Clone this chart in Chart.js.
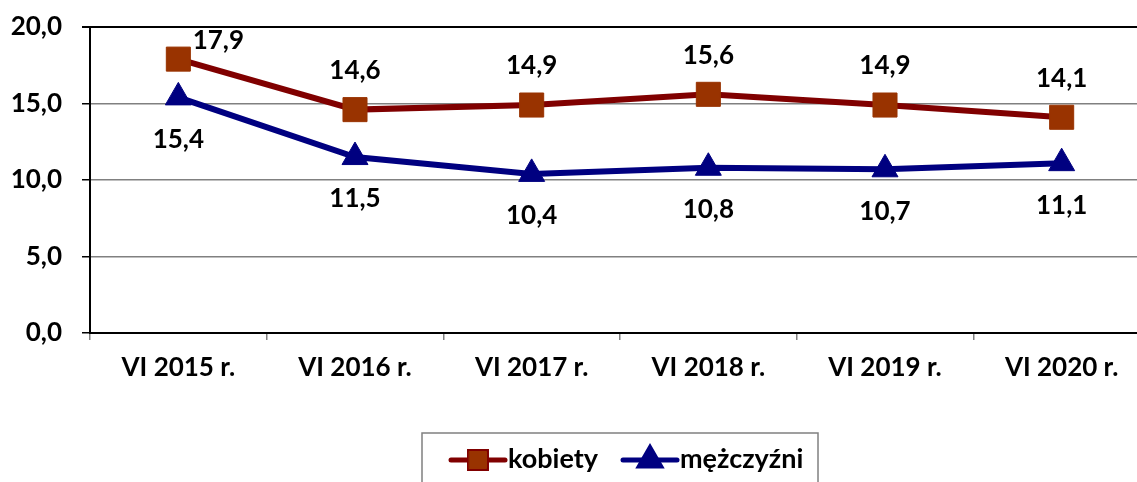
<!DOCTYPE html>
<html>
<head>
<meta charset="utf-8">
<script src="https://cdn.jsdelivr.net/npm/chart.js@4"></script>
<style>
  html, body { margin: 0; padding: 0; background: #fff; overflow: hidden; }
  #wrap { width: 1160px; height: 482px; }
</style>
</head>
<body>
<div id="wrap"><canvas id="chart" width="1160" height="482"></canvas></div>
<script>
// categories and series
const categories = ['VI 2015 r.', 'VI 2016 r.', 'VI 2017 r.', 'VI 2018 r.', 'VI 2019 r.', 'VI 2020 r.'];
const kobiety = [17.9, 14.6, 14.9, 15.6, 14.9, 14.1];
const mezczyzni = [15.4, 11.5, 10.4, 10.8, 10.7, 11.1];
const yTicks = [0, 5, 10, 15, 20];

const FONT = 'Lato, "Open Sans", sans-serif';
const fmt = v => v.toFixed(1).replace('.', ',');

// value labels: first series above the point, second below
const valueLabels = {
  id: 'valueLabels',
  afterDatasetsDraw(chart) {
    const ctx = chart.ctx;
    ctx.save();
    ctx.font = 'bold 26px ' + FONT;
    ctx.fillStyle = '#000';
    ctx.textAlign = 'center';
    ctx.textBaseline = 'middle';
    chart.data.datasets.forEach((ds, i) => {
      chart.getDatasetMeta(i).data.forEach((pt, j) => {
        let x = pt.x, y = pt.y;
        if (i === 0) {
          y -= 39;
          // no room above the plot: put it to the upper right
          if (y < chart.chartArea.top + 8) { y = pt.y - 19; x = pt.x + 40; }
        } else {
          y += 42;
        }
        ctx.fillText(fmt(ds.data[j]), x, y);
      });
    });
    ctx.restore();
  }
};

// boxed legend under the chart
const boxLegend = {
  id: 'boxLegend',
  afterDraw(chart) {
    const ctx = chart.ctx;
    const left = 422, top = 433, right = 818;
    ctx.save();
    ctx.strokeStyle = '#808080';
    ctx.lineWidth = 1.5;
    ctx.strokeRect(left, top, right - left, 80);
    const items = [
      { x: 451, r: 12, ds: chart.data.datasets[0] },
      { x: 623, r: 12, ds: chart.data.datasets[1] }
    ];
    const y = 460;
    items.forEach(it => {
      ctx.strokeStyle = it.ds.borderColor;
      ctx.lineWidth = 5;
      ctx.lineCap = 'round';
      ctx.beginPath();
      ctx.moveTo(it.x, y);
      ctx.lineTo(it.x + 54, y);
      ctx.stroke();
      Chart.helpers.drawPoint(ctx, {
        pointStyle: it.ds.pointStyle,
        radius: it.r,
        borderWidth: 1
      }, it.x + 27, y);
      ctx.fillStyle = it.ds.pointBackgroundColor;
      ctx.strokeStyle = it.ds.pointBorderColor;
      ctx.lineWidth = 1;
      ctx.fill();
      ctx.stroke();
      ctx.fillStyle = '#000';
      ctx.font = 'bold 27px ' + FONT;
      ctx.textAlign = 'left';
      ctx.textBaseline = 'middle';
      ctx.fillText(it.ds.label, it.x + 57, y - 1);
    });
    ctx.restore();
  }
};

const noPad = s => { s.paddingTop = 0; s.paddingBottom = 0; s.paddingLeft = 0; s.paddingRight = 0; };

new Chart(document.getElementById('chart'), {
  type: 'line',
  data: {
    labels: categories,
    datasets: [
      {
        label: 'kobiety',
        data: kobiety,
        borderColor: '#800000',
        borderWidth: 6,
        pointStyle: 'rect',
        pointRadius: 17,
        pointBackgroundColor: '#993300',
        pointBorderColor: '#993300',
        pointBorderWidth: 1,
        tension: 0
      },
      {
        label: 'mężczyźni',
        data: mezczyzni,
        borderColor: '#000080',
        borderWidth: 6,
        pointStyle: 'triangle',
        pointRadius: 15,
        pointBackgroundColor: '#000080',
        pointBorderColor: '#000080',
        pointBorderWidth: 1,
        tension: 0
      }
    ]
  },
  options: {
    responsive: false,
    animation: false,
    layout: { autoPadding: false, padding: { top: 27, right: 10, bottom: 89, left: 0 } },
    plugins: { legend: { display: false }, tooltip: { enabled: false } },
    scales: {
      x: {
        offset: true,
        afterFit: s => { s.height = 60; noPad(s); },
        grid: { offset: true, drawOnChartArea: false, tickLength: 7, color: '#808080', lineWidth: 1.5 },
        border: { color: '#000', width: 2 },
        ticks: { color: '#000', font: { family: FONT, size: 26, weight: 'bold' }, padding: 12 }
      },
      y: {
        min: 0,
        max: 20,
        afterFit: s => { s.width = 90; noPad(s); },
        afterBuildTicks: s => { s.ticks = yTicks.map(v => ({ value: v })); },
        grid: {
          tickLength: 8,
          color: c => (c.tick && (c.tick.value === 20 || c.tick.value === 0)) ? '#000' : '#808080',
          lineWidth: c => (c.tick && c.tick.value === 20) ? 2 : 1.5,
          tickColor: '#000'
        },
        border: { color: '#000', width: 2 },
        ticks: {
          color: '#000',
          padding: 20,
          font: { family: FONT, size: 26, weight: 'bold' },
          callback: v => fmt(v)
        }
      }
    }
  },
  plugins: [valueLabels, boxLegend]
});
</script>
</body>
</html>
